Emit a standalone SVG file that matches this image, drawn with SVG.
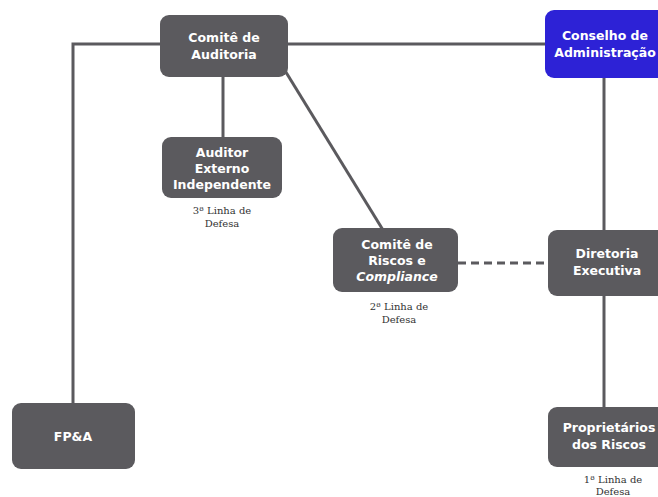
<svg xmlns="http://www.w3.org/2000/svg" width="658" height="497" viewBox="0 0 658 497">
<style>
.box{fill:#5b5a5e}
.blue{fill:#2d22d6}
.t{font-family:"DejaVu Sans",Verdana,sans-serif;font-weight:bold;font-size:12.5px;fill:#fff;text-anchor:middle}
.lbl{font-family:"DejaVu Serif","Liberation Serif",serif;font-size:10px;fill:#333;text-anchor:middle}
.ln{stroke:#5b5a5e;stroke-width:3;fill:none}
</style>
<rect width="658" height="497" fill="#fff"/>
<g id="connectors">
<polyline class="ln" points="160,44 73,44 73,404"/>
<line class="ln" x1="288" y1="44" x2="546" y2="44"/>
<line class="ln" x1="223" y1="76" x2="223" y2="138"/>
<line class="ln" x1="284" y1="69" x2="383" y2="230"/>
<line class="ln" x1="604" y1="77" x2="604" y2="232"/>
<line class="ln" x1="604" y1="295" x2="604" y2="408"/>
<line class="ln" x1="458" y1="263" x2="549" y2="263" stroke-dasharray="8,5"/>
</g>
<g id="comite-auditoria">
<rect class="box" x="160" y="15" width="128" height="62" rx="9"/>
<text class="t" x="224" y="42">Comitê de</text>
<text class="t" x="224" y="59">Auditoria</text>
</g>
<g id="conselho">
<rect class="blue" x="545" y="10" width="125" height="68" rx="9"/>
<text class="t" x="605" y="40">Conselho de</text>
<text class="t" x="605" y="57">Administração</text>
</g>
<g id="auditor-externo">
<rect class="box" x="162" y="137" width="120" height="61" rx="9"/>
<text class="t" x="222" y="157">Auditor</text>
<text class="t" x="222" y="173">Externo</text>
<text class="t" x="222" y="189">Independente</text>
<text class="lbl" x="222" y="214">3ª Linha de</text>
<text class="lbl" x="222" y="227">Defesa</text>
</g>
<g id="comite-riscos">
<rect class="box" x="333" y="228" width="125" height="64" rx="9"/>
<text class="t" x="397" y="249">Comitê de</text>
<text class="t" x="397" y="265">Riscos e</text>
<text class="t" x="397" y="281" font-style="italic" font-weight="normal">Compliance</text>
<text class="lbl" x="399" y="310">2ª Linha de</text>
<text class="lbl" x="399" y="323">Defesa</text>
</g>
<g id="diretoria">
<rect class="box" x="548" y="230" width="125" height="66" rx="9"/>
<text class="t" x="607" y="258">Diretoria</text>
<text class="t" x="607" y="275">Executiva</text>
</g>
<g id="proprietarios">
<rect class="box" x="548" y="407" width="125" height="60" rx="9"/>
<text class="t" x="609" y="432">Proprietários</text>
<text class="t" x="609" y="449">dos Riscos</text>
<text class="lbl" x="613" y="483">1ª Linha de</text>
<text class="lbl" x="613" y="495">Defesa</text>
</g>
<g id="fpa">
<rect class="box" x="12" y="403" width="123" height="66" rx="9"/>
<text class="t" x="73" y="441">FP&amp;A</text>
</g>
</svg>
